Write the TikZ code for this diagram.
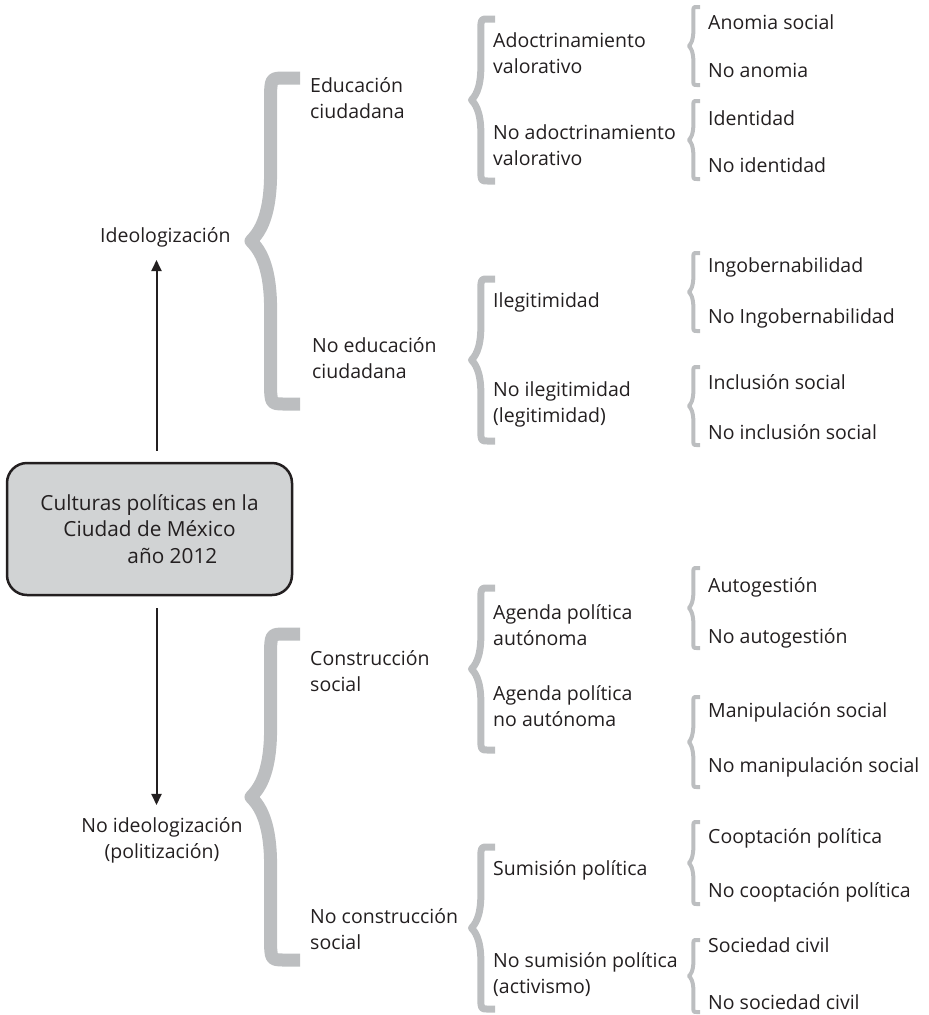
\documentclass[tikz,border=0pt]{standalone}
\usepackage{fontspec}
\setmainfont{Open Sans}
\usetikzlibrary{arrows.meta}
\definecolor{ink}{HTML}{231F20}
\definecolor{bracegray}{HTML}{BCBEC0}
\definecolor{boxgray}{HTML}{D1D3D4}

\begin{document}
\begin{tikzpicture}[
    x=1pt, y=-1pt,
    every node/.style={inner sep=0pt, text=ink, font=\fontsize{19.5}{26}\selectfont},
    label text/.style={anchor=west, align=left},
    main box/.style={draw=ink, fill=boxgray, line width=2.5pt, rounded corners=20pt,
        minimum width=285pt, minimum height=132pt, align=center, font=\fontsize{20.8}{26.5}\selectfont},
    main arrow/.style={draw=ink, line width=2pt, -{Triangle[length=11pt,width=10pt]}},
    brace line/.style={draw=bracegray, line join=round},
    big brace/.style={line width=13pt},
    mid brace/.style={line width=7pt},
    small brace/.style={line width=4pt},
    pics/gbrace/.style 2 args={code={
        \draw[brace line] (#2,-#1) -- ({0.7*#2},-#1) .. controls ({0.4*#2},-#1) .. ({0.4*#2},{-#1+0.45*#2})
            -- ({0.4*#2},{-0.42*#1}) .. controls ({0.4*#2},{-0.12*#1}) and ({0.12*#2},{-0.04*#1}) .. (0,0)
            .. controls ({0.12*#2},{0.04*#1}) and ({0.4*#2},{0.12*#1}) .. ({0.4*#2},{0.42*#1})
            -- ({0.4*#2},{#1-0.45*#2}) .. controls ({0.4*#2},#1) .. ({0.7*#2},#1) -- (#2,#1);
    }}
]
\useasboundingbox (0,0) rectangle (929,1015);

% Central box
\node[main box] (cultura) at (149.5,529) {Culturas políticas en la\\Ciudad de México\\\hspace*{2.2em}año 2012};

% First level
\node[label text] (ideo) at (100,237) {Ideologización};
\node[align=center] (noideo) at (162,840) {No ideologización\\(politización)};

\draw[main arrow, shorten <=11pt, shorten >=13pt] ([xshift=7pt]cultura.north) -- ([xshift=7pt]cultura.north |- ideo.south);
\draw[main arrow, shorten <=12pt, shorten >=12pt] ([xshift=7pt]cultura.south) -- ([xshift=7pt]cultura.south |- noideo.north);

% Big braces
\pic[big brace] at (251,241) {gbrace={163}{49}};
\pic[big brace] at (251,797) {gbrace={163}{49}};

% Second level
\node[label text] (edu) at (310,98) {Educación\\ciudadana};
\node[label text] (noedu) at (312,358) {No educación\\ciudadana};
\node[label text] (cons) at (310,671) {Construcción\\social};
\node[label text] (nocons) at (310,929) {No construcción\\social};

% Middle braces
\pic[mid brace] at (471.5,100) {gbrace={81}{23.5}};
\pic[mid brace] at (471.5,360) {gbrace={81}{23.5}};
\pic[mid brace] at (471.5,669) {gbrace={81}{23.5}};
\pic[mid brace] at (471.5,928) {gbrace={81}{23.5}};

% Third level
\node[label text] (adoc) at (493,53) {Adoctrinamiento\\valorativo};
\node[label text] (noadoc) at (493,145) {No adoctrinamiento\\valorativo};
\node[label text] (ileg) at (493,302) {Ilegitimidad};
\node[label text] (noileg) at (493,404) {No ilegitimidad\\(legitimidad)};
\node[label text] (agaut) at (493,625) {Agenda política\\autónoma};
\node[label text] (agnoaut) at (493,706) {Agenda política\\no autónoma};
\node[label text] (sum) at (493,870) {Sumisión política};
\node[label text] (nosum) at (493,975) {No sumisión política\\(activismo)};

% Small braces
\pic[small brace] at (689,46) {gbrace={39}{11}};
\pic[small brace] at (689,140) {gbrace={39}{11}};
\pic[small brace] at (689,292) {gbrace={39}{11}};
\pic[small brace] at (689,406) {gbrace={39}{11}};
\pic[small brace] at (689,608) {gbrace={40}{11}};
\pic[small brace] at (689,742) {gbrace={45}{11}};
\pic[small brace] at (689,863) {gbrace={41}{11}};
\pic[small brace] at (689,976) {gbrace={36}{11}};

% Fourth level
\node[label text] (anom) at (708,22) {Anomia social};
\node[label text] (noanom) at (708,70) {No anomia};
\node[label text] (iden) at (708,118) {Identidad};
\node[label text] (noiden) at (708,165) {No identidad};
\node[label text] (ingob) at (708,267) {Ingobernabilidad};
\node[label text] (noingob) at (708,318) {No Ingobernabilidad};
\node[label text] (incl) at (708,382) {Inclusión social};
\node[label text] (noincl) at (708,432) {No inclusión social};
\node[label text] (autog) at (708,587) {Autogestión};
\node[label text] (noautog) at (708,638) {No autogestión};
\node[label text] (manip) at (708,712) {Manipulación social};
\node[label text] (nomanip) at (708,767) {No manipulación social};
\node[label text] (coopt) at (708,838) {Cooptación política};
\node[label text] (nocoopt) at (708,892) {No cooptación política};
\node[label text] (socciv) at (708,945) {Sociedad civil};
\node[label text] (nosocciv) at (708,1002) {No sociedad civil};

\end{tikzpicture}
\end{document}
